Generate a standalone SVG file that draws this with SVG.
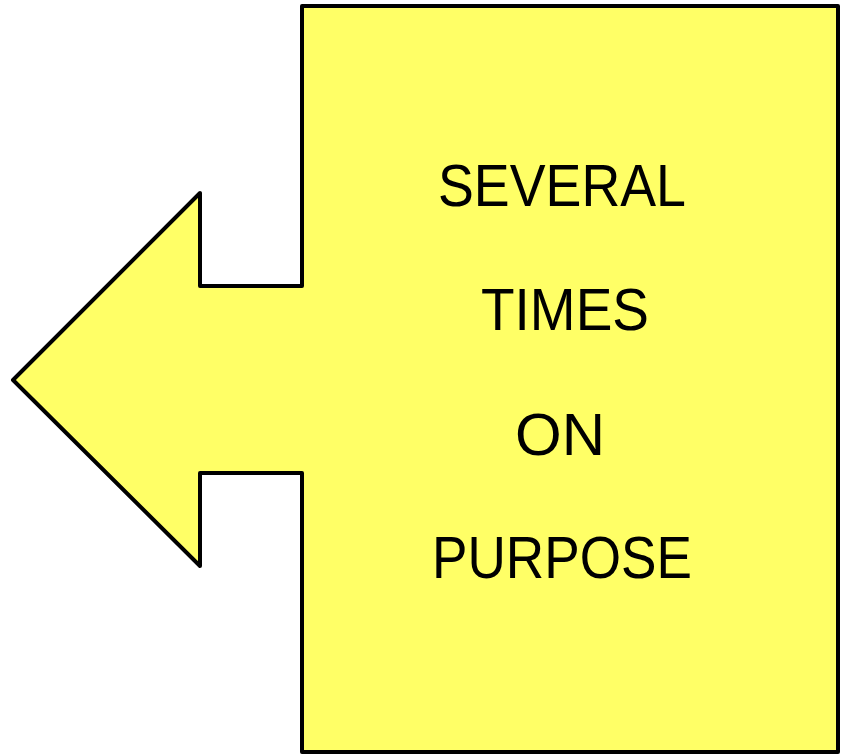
<svg xmlns="http://www.w3.org/2000/svg" width="843" height="754" viewBox="0 0 843 754">
<style>
.shape{fill:#FFFF66;stroke:#000;stroke-width:4;stroke-linejoin:round}
.t{font-family:"Liberation Sans",Arial,sans-serif;font-size:60px;fill:#000}
</style>
<g id="callout">
<path class="shape" d="M302,6 L838,6 L838,752 L302,752 L302,473 L200,473 L200,566 L13,380 L200,193 L200,286 L302,286 Z"/>
<text class="t" x="438" y="206" textLength="248" lengthAdjust="spacingAndGlyphs">SEVERAL</text>
<text class="t" x="481" y="330" textLength="168" lengthAdjust="spacingAndGlyphs">TIMES</text>
<text class="t" x="515" y="455" textLength="90" lengthAdjust="spacingAndGlyphs">ON</text>
<text class="t" x="432" y="578" textLength="260" lengthAdjust="spacingAndGlyphs">PURPOSE</text>
</g>
<g id="connectors"></g>
</svg>
